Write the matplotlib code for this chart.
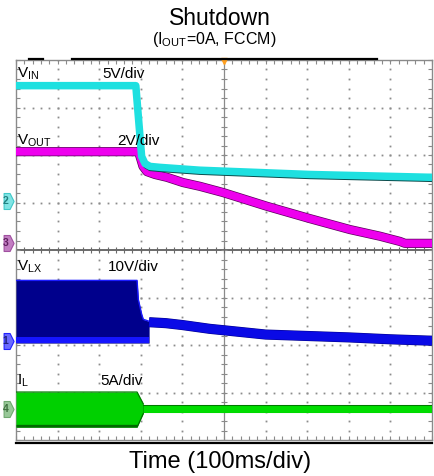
import numpy as np
import matplotlib
matplotlib.use("Agg")
import matplotlib.pyplot as plt
import matplotlib.patheffects as pe
from matplotlib.lines import Line2D
from matplotlib.path import Path

plt.rcParams['font.family'] = ['Liberation Sans', 'DejaVu Sans']
plt.rcParams['mathtext.fontset'] = 'custom'
plt.rcParams['mathtext.rm'] = 'Liberation Sans'
plt.rcParams['mathtext.it'] = 'Liberation Sans:italic'

# ---------------- data (time in divisions, level in divisions) ----------------
title = "Shutdown"
subtitle = r"(I$_\mathregular{OUT}$=0A, FCCM)"
xlabel = "Time (100ms/div)"

# VIN (cyan, 5V/div)
vin_t = [0, 2.88, 3.02, 3.10, 3.22, 3.46, 4.42, 7.07, 10.0]
vin_v = [7.46, 7.46, 5.97, 5.82, 5.76, 5.74, 5.68, 5.59, 5.53]

# VOUT (magenta, 2V/div)
vout_t = [0, 2.945, 3.005, 3.053, 3.149, 3.341, 3.630, 4.014, 4.423, 4.976,
          6.034, 7.067, 8.029, 8.750, 9.231, 9.351, 10.0]
vout_v = [6.07, 6.07, 5.90, 5.76, 5.65, 5.59, 5.53, 5.42, 5.34, 5.21,
          4.92, 4.66, 4.43, 4.29, 4.18, 4.14, 4.14]

# VLX (blue, 10V/div): switching envelope, then decaying trace
vlx_sw_t = [0, 2.91, 2.94, 3.02, 3.06, 3.20]
vlx_sw_top = [3.36, 3.36, 2.96, 2.65, 2.54, 2.50]
vlx_sw_bot = [2.04, 2.04, 2.04, 2.04, 2.04, 2.04]
vlx_t = [3.20, 3.6, 4.0, 4.66, 5.0, 6.0, 7.0, 8.0, 9.0, 10.0]
vlx_v = [2.48, 2.46, 2.42, 2.34, 2.31, 2.22, 2.19, 2.16, 2.12, 2.09]

# IL (green, 5A/div): ripple envelope, then flat trace
il_sw_t = [0, 2.91, 3.06]
il_sw_top = [1.01, 1.01, 0.76]
il_sw_bot = [0.27, 0.27, 0.56]
il_t = [3.06, 10.0]
il_v = [0.65, 0.65]

# channel ground markers
ch_names = ['2', '3', '1', '4']
ch_levels = [5.03, 4.15, 2.09, 0.65]
ch_fill = ['#80e4e4', '#c27ec2', '#6a6aff', '#98c898']
ch_edge = ['#40c8c8', '#a050a0', '#2020ff', '#70a870']
ch_text = ['#208080', '#602060', '#202080', '#407040']

labels = [r'V$_\mathregular{IN}$', r'V$_\mathregular{OUT}$', r'V$_\mathregular{LX}$', r'I$_\mathregular{L}$']
label_y = [7.63, 6.22, 3.56, 1.16]
scales = ['5V/div', '2V/div', '10V/div', '5A/div']
scale_x = [2.07, 2.43, 2.21, 2.02]

# ---------------- figure ----------------
W, H = 435, 476
fig = plt.figure(figsize=(W / 100, H / 100), dpi=100)
ax = fig.add_axes([16 / W, 1 - 440 / H, 416 / W, 380 / H])
ax.set_xlim(0, 10)
ax.set_ylim(0, 8)

# grid: dotted lines
gcol = '#8c8c8c'
dots = np.arange(0, 10.01, 0.2)
doty = np.arange(0, 8.01, 0.2)
for i in range(1, 10):
    if i != 5:
        ax.plot([i] * len(doty), doty, ls='none', marker='s', ms=1.3, mew=0, color=gcol, zorder=1)
for j in range(1, 8):
    if j != 4:
        ax.plot(dots, [j] * len(dots), ls='none', marker='s', ms=1.3, mew=0, color=gcol, zorder=1)
# center lines with ticks
ax.axvline(5, color='#8a8a8a', lw=0.9, zorder=1)
ax.axhline(4, color='#6a6a6a', lw=1.4, zorder=1)
ax.plot([5] * len(doty), doty, ls='none', marker='_', ms=5, mew=0.8, color='#8a8a8a', zorder=1)
ax.plot(dots, [4] * len(dots), ls='none', marker='|', ms=5, mew=0.8, color='#6a6a6a', zorder=1)

for s in ax.spines.values():
    s.set_color('#8a8a8a')
    s.set_linewidth(1.0)
ax.set_xticks(range(11))
ax.set_yticks(range(9))
ax.set_xticks(dots, minor=True)
ax.set_yticks(doty, minor=True)
ax.tick_params(which='both', direction='in', length=3, color='#8a8a8a', width=0.8,
               top=True, right=True, labelbottom=False, labelleft=False)

# ---------------- traces ----------------
# VLX
ax.fill_between(vlx_sw_t, vlx_sw_bot, vlx_sw_top, color='#00008c', lw=0, zorder=3)
ax.plot(vlx_sw_t, vlx_sw_top, color='#1a1aff', lw=1.0, zorder=3)
ax.fill_between(vlx_sw_t, vlx_sw_bot, np.array(vlx_sw_bot) + 0.13, color='#1515ff', lw=0, zorder=3)
ax.plot(vlx_t, vlx_v, color='#0a0ae6', lw=6.5, solid_capstyle='butt', zorder=3,
        path_effects=[pe.Stroke(linewidth=7.3, foreground='#00008c'), pe.Normal()])

# IL
ax.fill_between(il_sw_t, il_sw_bot, il_sw_top, color='#00d000', lw=0, zorder=3)
ax.plot(il_sw_t, il_sw_top, color='#007a00', lw=0.9, zorder=3)
ax.fill_between(il_sw_t, il_sw_bot, np.array(il_sw_bot) + 0.06, color='#006a00', lw=0, zorder=3)
ax.plot(il_t, il_v, color='#00dd00', lw=5.0, solid_capstyle='butt', zorder=3,
        path_effects=[pe.Stroke(linewidth=5.8, foreground='#007a00'), pe.Normal()])

# VOUT
ax.plot(vout_t, vout_v, color='#ee00ee', lw=5.6, solid_capstyle='butt', zorder=4,
        path_effects=[pe.Stroke(linewidth=6.6, foreground='#5a005a'), pe.Normal()])

# VIN
ax.plot(vin_t[2:], np.array(vin_v[2:]) - 0.07, color='#0a4a4a', lw=2.0, solid_capstyle='butt', zorder=5)
ax.plot(vin_t, vin_v, color='#1ee0e0', lw=5.4, solid_capstyle='butt', zorder=5)

# channel markers
tag = Path([(-0.55, -1), (0.2, -1), (0.7, 0), (0.2, 1), (-0.55, 1), (-0.55, -1)],
           [Path.MOVETO, Path.LINETO, Path.LINETO, Path.LINETO, Path.LINETO, Path.CLOSEPOLY])
for name, lvl, fc, ec, tc in zip(ch_names, ch_levels, ch_fill, ch_edge, ch_text):
    ax.plot(-0.19, lvl, marker=tag, ms=11.5, mfc=fc, mec=ec, mew=0.8, clip_on=False, zorder=6)
    ax.text(-0.25, lvl, name, fontsize=7.5, color=tc, ha='center', va='center',
            fontweight='bold', clip_on=False, zorder=7)

# labels
for lab, ly, sc, sx in zip(labels, label_y, scales, scale_x):
    ax.text(0.02, ly, lab, fontsize=11, va='baseline', ha='left', color='black', zorder=8)
    ax.text(sx, ly, sc, fontsize=11, va='baseline', ha='left', color='black', zorder=8)

# trigger marker
ax.plot(5, 7.97, marker='v', ms=5, color='#ffa020', mec='#ffa020', clip_on=False, zorder=8)

# scope status bars
fig.add_artist(Line2D([72 / W, 377 / W], [1 - 59 / H] * 2, color='black', lw=1.6))
fig.add_artist(Line2D([29 / W, 43 / W], [1 - 59 / H] * 2, color='black', lw=1.6))
fig.add_artist(Line2D([16 / W, 432 / W], [1 - 443 / H] * 2, color='black', lw=1.6))

# titles
fig.text(220 / W, 1 - 25 / H, title, fontsize=16.5, ha='center', va='baseline')
fig.text(214 / W, 1 - 44 / H, subtitle, fontsize=11.5, ha='center', va='baseline')
fig.text(220 / W, 1 - 468 / H, xlabel, fontsize=17, ha='center', va='baseline')

fig.savefig('out.png', dpi=100)
